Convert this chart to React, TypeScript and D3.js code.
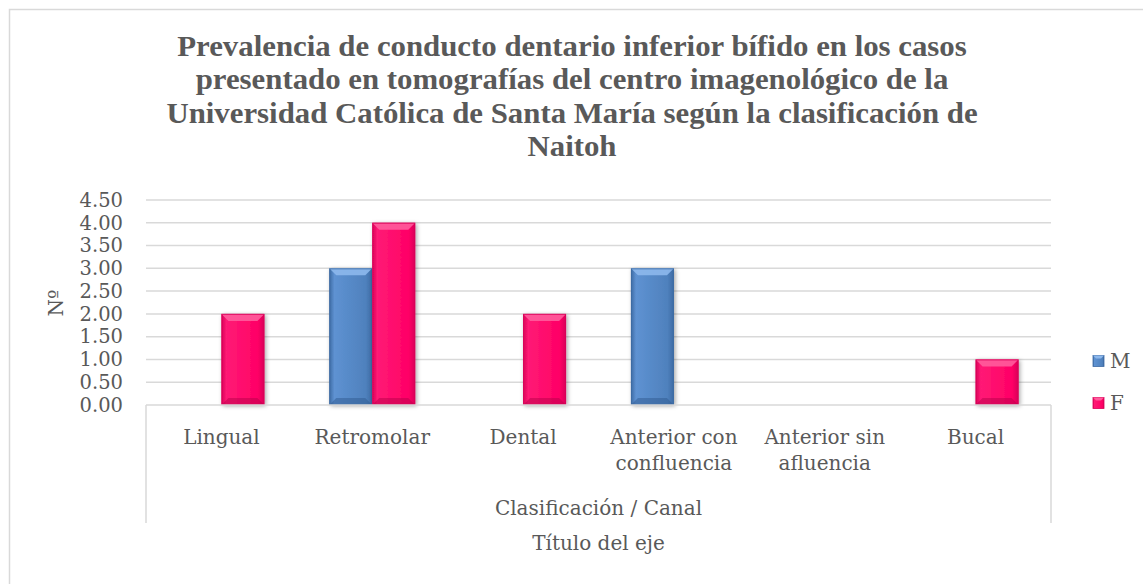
import React, { useEffect, useRef } from "react";
import * as d3 from "d3";

const titleLines = [
  "Prevalencia de conducto dentario inferior bífido en los casos",
  "presentado en tomografías del centro imagenológico de la",
  "Universidad Católica de Santa María según la clasificación de",
  "Naitoh",
];
const categories = [
  "Lingual",
  "Retromolar",
  "Dental",
  "Anterior con confluencia",
  "Anterior sin afluencia",
  "Bucal",
];
const categoryLines = [
  ["Lingual"],
  ["Retromolar"],
  ["Dental"],
  ["Anterior con", "confluencia"],
  ["Anterior sin", "afluencia"],
  ["Bucal"],
];
const seriesNames = ["M", "F"];
const valuesM = [0, 3, 0, 3, 0, 0];
const valuesF = [2, 4, 2, 0, 0, 1];
const yTicks = [0, 0.5, 1, 1.5, 2, 2.5, 3, 3.5, 4, 4.5];
const yAxisTitle = "Nº";
const groupTitle = "Clasificación / Canal";
const xAxisTitle = "Título del eje";

const W = 1143;
const H = 584;

export default function App() {
  const ref = useRef<SVGSVGElement | null>(null);

  useEffect(() => {
    const svg = d3.select(ref.current);
    svg.selectAll("*").remove();
    const txt = "#595959";
    const axisFont = "'DejaVu Serif', serif";

    const defs = svg.append("defs");
    const f = defs
      .append("filter")
      .attr("id", "shadow")
      .attr("x", "-30%")
      .attr("y", "-10%")
      .attr("width", "160%")
      .attr("height", "130%");
    f.append("feDropShadow")
      .attr("dx", 1.5)
      .attr("dy", 1)
      .attr("stdDeviation", 2)
      .attr("flood-color", "#000")
      .attr("flood-opacity", 0.35);

    const palettes: Record<string, { base: string; light: string; dark: string; top: string; bottom: string }> = {
      M: { base: "#4f81bd", light: "#5e92d2", dark: "#3d6aa3", top: "#8db8ec", bottom: "#2f5a8f" },
      F: { base: "#ff0066", light: "#ff1a75", dark: "#d80057", top: "#ff5c9c", bottom: "#b8004a" },
    };
    seriesNames.forEach((s) => {
      const p = palettes[s];
      const g = defs.append("linearGradient").attr("id", "grad" + s).attr("x1", 0).attr("x2", 1).attr("y1", 0).attr("y2", 0);
      g.append("stop").attr("offset", "0%").attr("stop-color", p.dark);
      g.append("stop").attr("offset", "12%").attr("stop-color", p.light);
      g.append("stop").attr("offset", "85%").attr("stop-color", p.base);
      g.append("stop").attr("offset", "100%").attr("stop-color", p.dark);
    });

    // frame
    svg.append("rect")
      .attr("x", 9.5).attr("y", 9.5).attr("width", 1200).attr("height", 700)
      .attr("fill", "#fff").attr("stroke", "#d9d9d9").attr("stroke-width", 1.5);

    const left = 146, right = 1051, top = 200, bottom = 405;
    const x0 = d3.scaleBand<string>().domain(categories).range([left, right]).paddingInner(0.43).paddingOuter(0.215);
    const x1 = d3.scaleBand<string>().domain(seriesNames).range([0, x0.bandwidth()]).padding(0);
    const y = d3.scaleLinear().domain([0, 4.5]).range([bottom, top]);

    // title
    const title = svg.append("g")
      .attr("transform", "translate(572,0) scale(1.063,1)")
      .attr("fill", txt).attr("font-family", "'Liberation Serif', serif").attr("font-weight", "bold").attr("font-size", 29);
    titleLines.forEach((l, i) => {
      title.append("text").attr("x", 0).attr("y", 56 + i * 33.5).attr("text-anchor", "middle").text(l);
    });

    // gridlines
    svg.append("g").selectAll("line").data(yTicks.filter((t) => t > 0)).join("line")
      .attr("x1", left).attr("x2", right)
      .attr("y1", (d) => y(d)).attr("y2", (d) => y(d))
      .attr("stroke", "#d9d9d9").attr("stroke-width", 1.5);

    // y tick labels
    svg.append("g").selectAll("text").data(yTicks).join("text")
      .attr("x", 123).attr("y", (d) => y(d)).attr("dy", "0.35em")
      .attr("text-anchor", "end").attr("font-family", axisFont).attr("font-size", 19.5).attr("fill", txt)
      .text((d) => d3.format(".2f")(d));

    // y title
    svg.append("text")
      .attr("transform", `translate(63,303) rotate(-90)`)
      .attr("text-anchor", "middle").attr("font-family", axisFont).attr("font-size", 20).attr("fill", txt)
      .text(yAxisTitle);

    // bars
    const series = [
      { name: "M", values: valuesM },
      { name: "F", values: valuesF },
    ];
    const barsG = svg.append("g");
    series.forEach((s) => {
      const p = palettes[s.name];
      s.values.forEach((v, i) => {
        if (v <= 0) return;
        const bx = (x0(categories[i]) as number) + (x1(s.name) as number);
        const bw = x1.bandwidth();
        const by = y(v);
        const bh = y(0) - y(v);
        const b = 7;
        const g = barsG.append("g");
        g.append("rect").attr("x", bx).attr("y", by).attr("width", bw).attr("height", bh)
          .attr("fill", `url(#grad${s.name})`).attr("filter", "url(#shadow)");
        g.append("path")
          .attr("d", `M${bx},${by}L${bx + bw},${by}L${bx + bw - b},${by + b}L${bx + b},${by + b}Z`)
          .attr("fill", p.top).attr("opacity", 0.9);
        g.append("path")
          .attr("d", `M${bx},${by + bh}L${bx + bw},${by + bh}L${bx + bw - b},${by + bh - b}L${bx + b},${by + bh - b}Z`)
          .attr("fill", p.bottom).attr("opacity", 0.5);
        g.append("rect").attr("x", bx + 0.5).attr("y", by + 0.5).attr("width", bw - 1).attr("height", bh - 1)
          .attr("fill", "none").attr("stroke", p.dark).attr("stroke-width", 1).attr("opacity", 0.8);
      });
    });

    // category axis box
    const axis = svg.append("g").attr("stroke", "#d9d9d9").attr("stroke-width", 1.5).attr("fill", "none");
    axis.append("line").attr("x1", left).attr("x2", right).attr("y1", bottom).attr("y2", bottom);
    axis.append("line").attr("x1", left).attr("x2", left).attr("y1", bottom).attr("y2", 523);
    axis.append("line").attr("x1", right).attr("x2", right).attr("y1", bottom).attr("y2", 523);

    // category labels
    const cg = svg.append("g").attr("font-family", axisFont).attr("font-size", 20).attr("fill", txt).attr("text-anchor", "middle");
    categories.forEach((c, i) => {
      const cx = (x0(c) as number) + x0.bandwidth() / 2;
      categoryLines[i].forEach((ln, j) => {
        cg.append("text").attr("x", cx).attr("y", 437 + j * 26).attr("dy", "0.35em").text(ln);
      });
    });
    const mid = (left + right) / 2;
    cg.append("text").attr("x", mid).attr("y", 508).attr("dy", "0.35em").text(groupTitle);
    cg.append("text").attr("x", mid).attr("y", 543).attr("dy", "0.35em").text(xAxisTitle);

    // legend
    const lg = svg.append("g");
    const legendY = [361, 403];
    seriesNames.forEach((s, i) => {
      const p = palettes[s];
      const ly = legendY[i];
      lg.append("rect").attr("x", 1093).attr("y", ly - 5.5).attr("width", 11).attr("height", 11)
        .attr("fill", `url(#grad${s})`).attr("stroke", p.dark).attr("stroke-width", 0.8);
      lg.append("path")
        .attr("d", `M1093,${ly - 5.5}L1104,${ly - 5.5}L1101,${ly - 2.5}L1096,${ly - 2.5}Z`)
        .attr("fill", p.top);
      lg.append("text").attr("x", 1110).attr("y", ly).attr("dy", "0.35em")
        .attr("font-family", axisFont).attr("font-size", 20).attr("fill", txt).text(s);
    });
  }, []);

  return (
    <svg
      ref={ref}
      width={W}
      height={H}
      style={{ position: "absolute", left: 0, top: 0, background: "#fff" }}
    />
  );
}
